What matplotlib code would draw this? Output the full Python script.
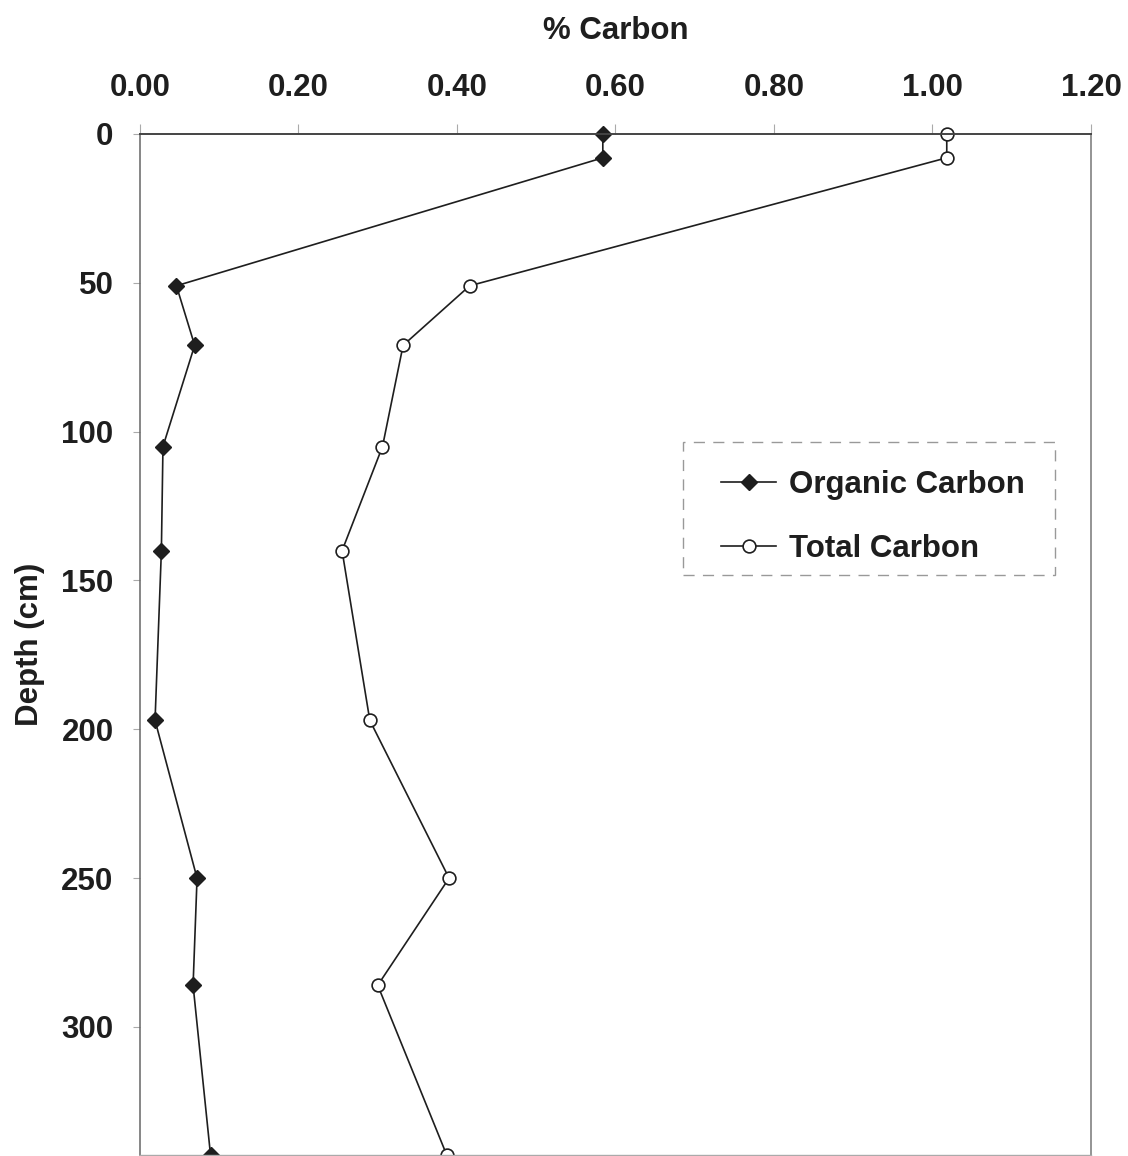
import matplotlib.pyplot as plt
from matplotlib.patches import Rectangle

plt.rcParams['font.family'] = ['Liberation Sans', 'DejaVu Sans']
plt.rcParams['font.weight'] = 'bold'

# soil profile carbon content
depth = [0, 8, 51, 71, 105, 140, 197, 250, 286, 343]
organic_c = [0.584, 0.584, 0.046, 0.069, 0.029, 0.027, 0.019, 0.072, 0.067, 0.089]
total_c = [1.018, 1.018, 0.416, 0.332, 0.306, 0.255, 0.290, 0.390, 0.300, 0.387]

x_ticks = [0.0, 0.2, 0.4, 0.6, 0.8, 1.0, 1.2]
y_ticks = [0, 50, 100, 150, 200, 250, 300]

ink = '#1e1e1e'
fs = 22.5

fig = plt.figure(figsize=(11.28, 11.56), dpi=100)
ax = fig.add_axes([0.1241, 0.0009, 0.8431, 0.8832])

ax.plot(organic_c, depth, color=ink, lw=1.2, marker='D', ms=8,
        mfc=ink, mec=ink, clip_on=False, label='Organic Carbon')
ax.plot(total_c, depth, color=ink, lw=1.2, marker='o', ms=9.2,
        mfc='white', mec=ink, mew=1.2, clip_on=False, label='Total Carbon')

ax.set_xlim(0, 1.2)
ax.set_ylim(343, 0)
ax.xaxis.tick_top()
ax.xaxis.set_label_position('top')
ax.set_xticks(x_ticks)
ax.set_xticklabels([f'{v:.2f}' for v in x_ticks])
ax.set_yticks(y_ticks)
ax.tick_params(axis='x', direction='out', length=7, width=0.8, color='#aaaaaa',
               labelsize=fs, labelcolor=ink, pad=15)
ax.tick_params(axis='y', direction='out', length=5, width=0.8, color='#aaaaaa',
               labelsize=fs, labelcolor=ink, pad=14)

ax.set_xlabel('% Carbon', fontsize=fs, fontweight='bold', color=ink, labelpad=25)
ax.set_ylabel('Depth (cm)', fontsize=fs, fontweight='bold', color=ink, labelpad=12)

ax.spines['top'].set_color('#444444')
ax.spines['top'].set_linewidth(1.4)
ax.spines['left'].set_color('#666666')
ax.spines['left'].set_linewidth(1.1)
ax.spines['right'].set_color('#777777')
ax.spines['right'].set_linewidth(1.1)
ax.spines['bottom'].set_color('#aaaaaa')
ax.spines['bottom'].set_linewidth(1.0)

# legend entries without frame, dashed box drawn around them
leg = ax.legend(loc='upper left', bbox_to_anchor=(0.611, 0.671), borderaxespad=0,
                fontsize=fs, frameon=False, handlelength=1.76,
                handletextpad=0.42, labelspacing=1.1, borderpad=0)
for t in leg.get_texts():
    t.set_color(ink)
    t.set_fontweight('bold')
ax.add_patch(Rectangle((0.571, 0.568), 0.391, 0.130, transform=ax.transAxes,
                       fill=False, edgecolor='#999999', lw=1.0,
                       linestyle=(0, (8, 6)), zorder=1))

fig.savefig('out.png', dpi=100)
